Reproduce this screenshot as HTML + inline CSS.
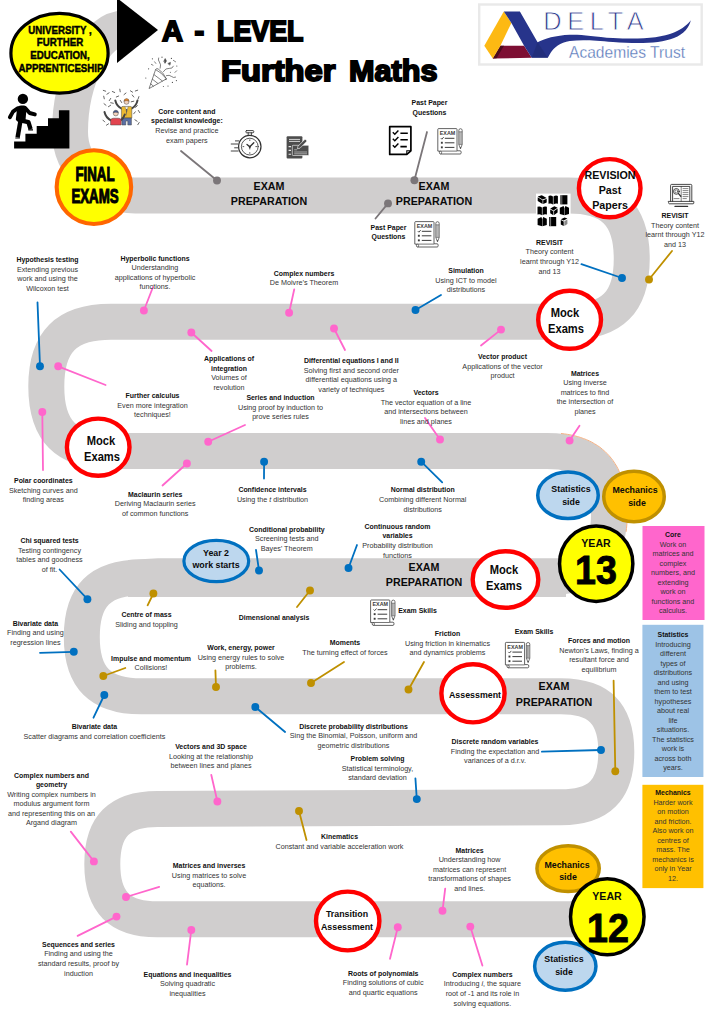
<!DOCTYPE html>
<html><head><meta charset="utf-8"><title>A-Level Further Maths</title>
<style>
html,body{margin:0;padding:0;background:#fff;}
body{width:709px;height:1024px;position:relative;overflow:hidden;font-family:"Liberation Sans",sans-serif;color:#222;}
svg.main{position:absolute;left:0;top:0;}
.lb{position:absolute;width:300px;text-align:center;font-size:7.2px;line-height:9.55px;white-space:nowrap;color:#333;}
.lb .b{font-weight:bold;color:#111;font-size:6.95px;}
.bg{position:absolute;width:200px;text-align:center;font-weight:bold;white-space:nowrap;color:#0a0a0a;transform:scaleX(0.93);}
.t{position:absolute;white-space:nowrap;font-weight:bold;color:#000;}
.ti{font-size:29px;line-height:36px;-webkit-text-stroke:1.9px #000;transform-origin:0 50%;}
</style></head><body>
<svg class="main" width="709" height="1024" viewBox="0 0 709 1024">
<path d="M 126 28.5 C 95 27 70 80 70 132 C 70 165.4 99 195.5 135 195.5 L 568.6 195.5 C 612.17 195.5 631.75 215.08 631.75 258.65 C 631.75 302.22 612.17 321.8 568.6 321.8 L 110.9 321.8 C 66.33 321.8 46.30 341.83 46.30 386.40 C 46.30 430.97 66.33 451 110.9 451 L 547 451 C 589.78 451 609.00 470.61 609.00 514.25 C 609.00 557.89 589.78 577.5 547 577.5 L 141.2 577.5 C 100.21 577.5 81.80 595.91 81.80 636.90 C 81.80 677.89 100.21 696.3 141.2 696.3 L 560.9 696.3 C 599.13 696.3 616.30 713.50 616.30 751.80 C 616.30 790.09 599.13 807.3 560.9 807.3 L 200 808.7 L 157.4 809 C 119.38 809 102.30 826.08 102.30 864.10 C 102.30 902.12 119.38 919.2 157.4 919.2 L 612 919.2" fill="none" stroke="#d0cece" stroke-width="36" stroke-linejoin="round"/>
<path d="M128 559.9 L158 558.2 H566 V562 H128 Z M128 594 H566 V597.1 H128 Z" fill="#d0cece"/>
<path d="M 561.0 433.5 L 564.4 433.9 L 567.7 434.4 L 570.9 435.0 L 574.1 435.7 L 577.2 436.5 L 580.3 437.4 L 583.3 438.5 L 586.3 439.6 L 589.2 440.9 L 592.0 442.3 L 594.7 443.9 L 597.4 445.5 L 600.0 447.3 L 602.4 449.3 L 604.8 451.3 L 607.0 453.5 L 609.2 455.8 L 611.2 458.2 L 613.1 460.7 L 614.8 463.3 L 616.5 466.0 L 618.0 468.8 L 619.3 471.6 L 620.6 474.5 L 621.7 477.5 L 622.7 480.6 L 623.6 483.7 L 624.4 486.8 L 625.1 490.1 L 625.7 493.3 L 626.1 496.7 L 626.5 500.1 L 626.8 503.5 L 627.0 507.0 L 627.2 510.6 L 627.2 514.2 L 627.2 514.2 L 627.2 517.9 L 627.0 521.5 L 626.8 525.0 L 626.5 528.4 L 626.1 531.8" fill="none" stroke="#f4b183" stroke-width="1"/>
<rect x="642.5" y="526" width="62" height="94" fill="#ff66cc"/>
<rect x="642.4" y="624.8" width="61" height="152.2" fill="#9dc3e6"/>
<rect x="642.4" y="784.8" width="61" height="103.3" fill="#ffc000"/>
<line x1="217" y1="180.5" x2="181" y2="151" stroke="#7b7679" stroke-width="1.8" stroke-linecap="round"/>
<circle cx="217" cy="180.5" r="3.95" fill="#7b7679"/>
<line x1="414.4" y1="180.2" x2="427" y2="132" stroke="#7b7679" stroke-width="1.8" stroke-linecap="round"/>
<circle cx="414.4" cy="180.2" r="3.95" fill="#7b7679"/>
<line x1="388" y1="203.4" x2="375.5" y2="218.5" stroke="#7b7679" stroke-width="1.8" stroke-linecap="round"/>
<circle cx="388" cy="203.4" r="3.95" fill="#7b7679"/>
<line x1="622" y1="278" x2="581.4" y2="264.2" stroke="#0070c0" stroke-width="1.8" stroke-linecap="round"/>
<circle cx="622" cy="278" r="3.95" fill="#0070c0"/>
<line x1="649" y1="279.5" x2="672" y2="251" stroke="#bf9000" stroke-width="1.8" stroke-linecap="round"/>
<circle cx="649" cy="279.5" r="3.95" fill="#bf9000"/>
<line x1="501" y1="329.6" x2="481" y2="345.5" stroke="#ff66cc" stroke-width="1.8" stroke-linecap="round"/>
<circle cx="501" cy="329.6" r="3.95" fill="#ff66cc"/>
<line x1="40" y1="366.3" x2="37.5" y2="302.4" stroke="#0070c0" stroke-width="1.8" stroke-linecap="round"/>
<circle cx="40" cy="366.3" r="3.95" fill="#0070c0"/>
<line x1="58.2" y1="366.3" x2="105.6" y2="385" stroke="#ff66cc" stroke-width="1.8" stroke-linecap="round"/>
<circle cx="58.2" cy="366.3" r="3.95" fill="#ff66cc"/>
<line x1="42.3" y1="412" x2="43" y2="470" stroke="#ff66cc" stroke-width="1.8" stroke-linecap="round"/>
<circle cx="42.3" cy="412" r="3.95" fill="#ff66cc"/>
<line x1="143.9" y1="310.5" x2="153" y2="287" stroke="#ff66cc" stroke-width="1.8" stroke-linecap="round"/>
<circle cx="143.9" cy="310.5" r="3.95" fill="#ff66cc"/>
<line x1="191.3" y1="332.5" x2="211.6" y2="351" stroke="#ff66cc" stroke-width="1.8" stroke-linecap="round"/>
<circle cx="191.3" cy="332.5" r="3.95" fill="#ff66cc"/>
<line x1="208.2" y1="441.8" x2="245" y2="425" stroke="#ff66cc" stroke-width="1.8" stroke-linecap="round"/>
<circle cx="208.2" cy="441.8" r="3.95" fill="#ff66cc"/>
<line x1="186.9" y1="463.5" x2="162.5" y2="485.5" stroke="#ff66cc" stroke-width="1.8" stroke-linecap="round"/>
<circle cx="186.9" cy="463.5" r="3.95" fill="#ff66cc"/>
<line x1="289.1" y1="312.8" x2="294.2" y2="289.5" stroke="#ff66cc" stroke-width="1.8" stroke-linecap="round"/>
<circle cx="289.1" cy="312.8" r="3.95" fill="#ff66cc"/>
<line x1="334" y1="328.5" x2="345" y2="350" stroke="#ff66cc" stroke-width="1.8" stroke-linecap="round"/>
<circle cx="334" cy="328.5" r="3.95" fill="#ff66cc"/>
<line x1="415.5" y1="310" x2="441" y2="295" stroke="#0070c0" stroke-width="1.8" stroke-linecap="round"/>
<circle cx="415.5" cy="310" r="3.95" fill="#0070c0"/>
<line x1="440" y1="439.5" x2="425" y2="418" stroke="#ff66cc" stroke-width="1.8" stroke-linecap="round"/>
<circle cx="440" cy="439.5" r="3.95" fill="#ff66cc"/>
<line x1="421.2" y1="461.7" x2="442.2" y2="482.3" stroke="#0070c0" stroke-width="1.8" stroke-linecap="round"/>
<circle cx="421.2" cy="461.7" r="3.95" fill="#0070c0"/>
<line x1="264.1" y1="461.7" x2="264" y2="478.5" stroke="#0070c0" stroke-width="1.8" stroke-linecap="round"/>
<circle cx="264.1" cy="461.7" r="3.95" fill="#0070c0"/>
<line x1="569.6" y1="440.6" x2="579.5" y2="425.8" stroke="#ff66cc" stroke-width="1.8" stroke-linecap="round"/>
<circle cx="569.6" cy="440.6" r="3.95" fill="#ff66cc"/>
<line x1="87.4" y1="599.2" x2="59.6" y2="569.5" stroke="#0070c0" stroke-width="1.8" stroke-linecap="round"/>
<circle cx="87.4" cy="599.2" r="3.95" fill="#0070c0"/>
<line x1="73.8" y1="651.8" x2="40" y2="652.8" stroke="#0070c0" stroke-width="1.8" stroke-linecap="round"/>
<circle cx="73.8" cy="651.8" r="3.95" fill="#0070c0"/>
<line x1="153.4" y1="593.5" x2="147.6" y2="605.3" stroke="#bf9000" stroke-width="1.8" stroke-linecap="round"/>
<circle cx="153.4" cy="593.5" r="3.95" fill="#bf9000"/>
<line x1="103.3" y1="676" x2="125.3" y2="668" stroke="#bf9000" stroke-width="1.8" stroke-linecap="round"/>
<circle cx="103.3" cy="676" r="3.95" fill="#bf9000"/>
<line x1="104.3" y1="695" x2="93.5" y2="717.7" stroke="#0070c0" stroke-width="1.8" stroke-linecap="round"/>
<circle cx="104.3" cy="695" r="3.95" fill="#0070c0"/>
<line x1="216" y1="687" x2="215.4" y2="670.3" stroke="#bf9000" stroke-width="1.8" stroke-linecap="round"/>
<circle cx="216" cy="687" r="3.95" fill="#bf9000"/>
<line x1="255.3" y1="707" x2="285.1" y2="732" stroke="#0070c0" stroke-width="1.8" stroke-linecap="round"/>
<circle cx="255.3" cy="707" r="3.95" fill="#0070c0"/>
<line x1="259" y1="570.5" x2="256" y2="550" stroke="#0070c0" stroke-width="1.8" stroke-linecap="round"/>
<circle cx="259" cy="570.5" r="3.95" fill="#0070c0"/>
<line x1="348.5" y1="568" x2="357" y2="545" stroke="#0070c0" stroke-width="1.8" stroke-linecap="round"/>
<circle cx="348.5" cy="568" r="3.95" fill="#0070c0"/>
<line x1="310" y1="590.5" x2="297" y2="607" stroke="#bf9000" stroke-width="1.8" stroke-linecap="round"/>
<circle cx="310" cy="590.5" r="3.95" fill="#bf9000"/>
<line x1="311" y1="683" x2="344" y2="662" stroke="#bf9000" stroke-width="1.8" stroke-linecap="round"/>
<circle cx="311" cy="683" r="3.95" fill="#bf9000"/>
<line x1="408.5" y1="689.5" x2="424" y2="662" stroke="#bf9000" stroke-width="1.8" stroke-linecap="round"/>
<circle cx="408.5" cy="689.5" r="3.95" fill="#bf9000"/>
<line x1="601" y1="750" x2="541.9" y2="751.7" stroke="#0070c0" stroke-width="1.8" stroke-linecap="round"/>
<circle cx="601" cy="750" r="3.95" fill="#0070c0"/>
<line x1="615.3" y1="771.3" x2="613.6" y2="680.6" stroke="#bf9000" stroke-width="1.8" stroke-linecap="round"/>
<circle cx="615.3" cy="771.3" r="3.95" fill="#bf9000"/>
<line x1="416.8" y1="799.1" x2="415.4" y2="778.3" stroke="#0070c0" stroke-width="1.8" stroke-linecap="round"/>
<circle cx="416.8" cy="799.1" r="3.95" fill="#0070c0"/>
<line x1="93.9" y1="861.4" x2="70.8" y2="831.6" stroke="#ff66cc" stroke-width="1.8" stroke-linecap="round"/>
<circle cx="93.9" cy="861.4" r="3.95" fill="#ff66cc"/>
<line x1="126" y1="897" x2="159.2" y2="886.8" stroke="#ff66cc" stroke-width="1.8" stroke-linecap="round"/>
<circle cx="126" cy="897" r="3.95" fill="#ff66cc"/>
<line x1="116.5" y1="916.6" x2="77.6" y2="935.9" stroke="#ff66cc" stroke-width="1.8" stroke-linecap="round"/>
<circle cx="116.5" cy="916.6" r="3.95" fill="#ff66cc"/>
<line x1="191.3" y1="930" x2="187" y2="964.6" stroke="#ff66cc" stroke-width="1.8" stroke-linecap="round"/>
<circle cx="191.3" cy="930" r="3.95" fill="#ff66cc"/>
<line x1="217.4" y1="801.5" x2="211.3" y2="775" stroke="#ff66cc" stroke-width="1.8" stroke-linecap="round"/>
<circle cx="217.4" cy="801.5" r="3.95" fill="#ff66cc"/>
<line x1="299" y1="811" x2="306.5" y2="840" stroke="#bf9000" stroke-width="1.8" stroke-linecap="round"/>
<circle cx="299" cy="811" r="3.95" fill="#bf9000"/>
<line x1="397.8" y1="927.3" x2="390" y2="958.8" stroke="#ff66cc" stroke-width="1.8" stroke-linecap="round"/>
<circle cx="397.8" cy="927.3" r="3.95" fill="#ff66cc"/>
<line x1="442.5" y1="910.7" x2="445.2" y2="888.7" stroke="#ff66cc" stroke-width="1.8" stroke-linecap="round"/>
<circle cx="442.5" cy="910.7" r="3.95" fill="#ff66cc"/>
<line x1="470.3" y1="926.6" x2="482.4" y2="965.6" stroke="#ff66cc" stroke-width="1.8" stroke-linecap="round"/>
<circle cx="470.3" cy="926.6" r="3.95" fill="#ff66cc"/>
<ellipse cx="59.5" cy="53.2" rx="48.6" ry="39.9" fill="#ffff00" stroke="#000" stroke-width="3.2"/>
<ellipse cx="93.9" cy="187.1" rx="37.25" ry="36.85" fill="#ffff00" stroke="#ff6600" stroke-width="4.1"/>
<ellipse cx="609.7" cy="188.2" rx="30.8" ry="29.1" fill="#fff" stroke="#ff0000" stroke-width="4.4"/>
<ellipse cx="569.6" cy="319.8" rx="31.400000000000002" ry="29.0" fill="#fff" stroke="#ff0000" stroke-width="4.4"/>
<ellipse cx="98.2" cy="447.2" rx="31.3" ry="28.6" fill="#fff" stroke="#ff0000" stroke-width="4.4"/>
<ellipse cx="505.5" cy="579.5" rx="32.8" ry="28.3" fill="#fff" stroke="#ff0000" stroke-width="4.4"/>
<ellipse cx="473" cy="693.3" rx="31.599999999999998" ry="29.1" fill="#fff" stroke="#ff0000" stroke-width="4.4"/>
<ellipse cx="347.7" cy="921" rx="31.7" ry="29.400000000000002" fill="#fff" stroke="#ff0000" stroke-width="4.4"/>
<ellipse cx="568" cy="495.3" rx="30.25" ry="23.25" fill="#bdd7ee" stroke="#0070c0" stroke-width="3.5"/>
<ellipse cx="634" cy="496.5" rx="30.25" ry="25.25" fill="#ffc000" stroke="#bf9000" stroke-width="3.5"/>
<ellipse cx="596.2" cy="563.7" rx="36.65" ry="37.75" fill="#ffff00" stroke="#000" stroke-width="3.5"/>
<ellipse cx="216.3" cy="561" rx="32.4" ry="20.7" fill="#bdd7ee" stroke="#0070c0" stroke-width="3.2"/>
<ellipse cx="568.1" cy="868.6" rx="31.15" ry="22.95" fill="#ffc000" stroke="#bf9000" stroke-width="3.5"/>
<ellipse cx="565.3" cy="966.3" rx="30.65" ry="23.95" fill="#bdd7ee" stroke="#0070c0" stroke-width="3.5"/>
<ellipse cx="607.3" cy="916.7" rx="36.75" ry="38.05" fill="#ffff00" stroke="#000" stroke-width="3.5"/>
<polygon points="117,-2 117,63 158,30" fill="#000"/>


<!-- stairs + person -->
<g fill="#000">
  <path d="M14.100 148.400 V141.600 H25.400 V133.700 H36.700 V126.100 H48 V118.200 H58.900 V110.300 H69.400 V148.400 Z"/>
  <circle cx="22.900" cy="98.900" r="5.200"/>
  <path d="M17.200 107.400 Q18.400 105.600 21 105.500 H24 Q26 105.600 26.600 107.600 L25.400 121.600 Q24 123.600 21 122.800 Q16.600 121.800 15.800 119.400 Z"/>
</g>
<g fill="none" stroke="#000" stroke-linecap="round" stroke-linejoin="round">
  <path d="M17.600 108.200 L13 111.600 L9.900 117.200" stroke-width="3.900"/>
  <path d="M25.200 108 L29.600 113 L34.800 114.400" stroke-width="3.900"/>
  <path d="M22.600 120.800 L28.400 122.200 L30.600 129.200" stroke-width="4.400" stroke-linecap="butt"/>
  <path d="M20.600 120 L17.600 137.400" stroke-width="4.400" stroke-linecap="butt"/>
</g>
<path d="M28.300 129.200 H33 V130.600 H28.300 Z M15.300 137.400 H19.900 V138.600 H15.300 Z" fill="#000"/>

<!-- celebration icon -->
<g>
  <path d="M103.3 90.4 L105.7 91.2 M106.9 94.2 L109.1 92.8 M112.3 91.5 L114.7 92.5 M119.8 89.2 L120.2 91.8 M124.0 94.6 L126.0 93.0 M130.4 90.8 L132.6 92.2 M135.3 91.0 L137.7 90.2 M103.7 96.2 L104.3 98.8 M109.3 100.6 L110.7 98.4 M132.2 95.0 L133.8 97.0 M138.1 99.0 L138.9 96.6 M104.0 103.7 L106.0 105.3 M108.4 106.7 L110.6 105.3 M135.6 107.4 L137.4 105.6 M138.3 110.4 L139.7 112.6 M133.7 113.8 L135.3 111.8 M102.9 120.1 L104.7 121.9 M106.4 125.2 L108.6 123.8 M134.9 119.8 L137.1 121.2 M137.8 124.7 L139.2 122.5 M116.3 97.0 L118.7 96.0 M120.3 100.4 L121.7 102.6 M110.7 102.7 L113.3 103.3 M131.2 101.8 L133.8 101.2" stroke="#555" stroke-width="0.900" fill="none" stroke-linecap="round"/>
  <!-- right person (yellow) -->
  <path d="M121.800 108.600 Q116.600 106 115.300 100.400" stroke="#454545" stroke-width="2" fill="none" stroke-linecap="round"/>
  <path d="M131.400 108.600 Q136.400 106 137.500 100.400" stroke="#454545" stroke-width="2" fill="none" stroke-linecap="round"/>
  <path d="M121.400 107.400 Q121.600 106.400 123 106.400 H130.200 Q131.600 106.400 131.800 107.400 V118 H121.400 Z" fill="#eab932" stroke="#454545" stroke-width="0.500"/>
  <path d="M125 106.600 L126.600 112 L128.200 106.600 Z" fill="#f3efe6" stroke="#454545" stroke-width="0.300"/>
  <path d="M126 109 L126.600 116.500 L127.300 109 Z" fill="#555"/>
  <circle cx="126.500" cy="101.800" r="2.500" fill="#f4d3bd" stroke="#454545" stroke-width="0.500"/>
  <path d="M123.900 101.200 Q124.100 98.600 126.500 98.600 Q129 98.600 129.100 101.200 Q126.500 100.100 123.900 101.200 Z" fill="#e8862a" stroke="#454545" stroke-width="0.400"/>
  <path d="M122 118 H131.400 V125 H127.800 V121 H125.800 V125 H122 Z" fill="#5a6fa5" stroke="#454545" stroke-width="0.500"/>
  <!-- left person (red) -->
  <path d="M111 120.400 Q105.800 117.800 104.500 112" stroke="#454545" stroke-width="2" fill="none" stroke-linecap="round"/>
  <path d="M120.600 120.400 Q123.500 118.500 124.800 114.500" stroke="#454545" stroke-width="2" fill="none" stroke-linecap="round"/>
  <path d="M110.600 119.600 Q112 118.200 113.500 118.200 H118.200 Q120 118.200 121.200 119.600 V125 H110.600 Z" fill="#e2444f" stroke="#454545" stroke-width="0.500"/>
  <circle cx="115.800" cy="113.400" r="2.500" fill="#f4d3bd" stroke="#454545" stroke-width="0.500"/>
  <path d="M113.200 112.800 Q113.400 110.200 115.800 110.200 Q118.300 110.200 118.400 112.800 Q115.800 111.700 113.200 112.800 Z" fill="#47598f" stroke="#454545" stroke-width="0.400"/>
</g>

<!-- party popper -->
<g stroke="#4a4a4a" stroke-width="0.7" fill="none" stroke-linecap="round" stroke-linejoin="round">
  <path d="M149.200 88.200 L155.600 69.600 Q161 72 166.200 78.600 Z"/>
  <path d="M152.400 79.200 L157.800 83.400 M154 74.600 L162.400 81 M150.700 83.800 L153.400 86.200"/>
  <path d="M155.600 69.600 Q156.500 67.500 158.200 69 Q163.600 72.500 166.200 78.600 Q167 80.200 165.200 79.600"/>
  <path d="M160.200 68.200 Q161.400 64.400 159.400 62 Q157.800 60.200 158.600 58"/>
  <path d="M163.400 71.600 Q165.600 67.800 169.200 68.400 Q172.400 69 173.400 66.200"/>
  <path d="M166.400 75.600 Q169.600 74.600 171.400 76.400 Q173.400 78.200 175.600 77.200"/>
  <path d="M164 61 l1.200 -2.400 l1.200 2.400 l-1.200 2 Z" fill="#4a4a4a"/>
  <path d="M168.200 63.400 l2.200 -1 l-0.400 2.400 Z" fill="#4a4a4a"/>
  <path d="M173.400 60.400 l2.200 1.400 M175 72.400 l1.600 -1.600 M154.600 61.800 l1.200 1.600 M151.400 64.400 l1.600 0.800"/>
</g>
<g fill="#4a4a4a"><circle cx="148.6" cy="68.800" r="0.6"/><circle cx="152.400" cy="58.800" r="0.6"/><circle cx="162" cy="57.200" r="0.6"/><circle cx="171.400" cy="58.400" r="0.6"/><circle cx="176.800" cy="66" r="0.6"/><circle cx="172.400" cy="82.400" r="0.6"/><circle cx="168" cy="86" r="0.6"/><circle cx="145.800" cy="78" r="0.6"/><circle cx="176.400" cy="80.600" r="0.6"/><circle cx="163.400" cy="86.600" r="0.5"/><circle cx="170.400" cy="72.200" r="0.5"/></g>

<!-- stopwatch -->
<g stroke="#303030" fill="none" stroke-linecap="round">
  <circle cx="249.8" cy="146.6" r="11.2" stroke-width="1.2"/>
  <circle cx="249.8" cy="146.6" r="8.4" stroke-width="0.8"/>
  <path d="M246.600 130.600 H253 Q253.800 130.600 253.800 131.600 Q253.800 132.800 253 132.800 H246.600 Q245.800 132.800 245.800 131.600 Q245.800 130.600 246.600 130.600 Z" stroke-width="0.9"/>
  <path d="M248.200 132.800 V135.200 M251.400 132.800 V135.200" stroke-width="0.9"/>
  <path d="M249.800 146.800 L253.800 142.800 M249.800 146.800 L247 144.400" stroke-width="1.3"/>
  <path d="M249.800 146.800 V149" stroke-width="0.9"/>
  <path d="M235.400 140.900 H238.800 M231.200 144 H237.800 M234.600 147.800 H237.600 M231.200 151 H238.200" stroke-width="0.9"/>
  <path d="M249.800 139.800 V140.600 M249.800 152.600 V153.400 M243 146.600 H243.800 M255.800 146.600 H256.600" stroke-width="0.8"/>
</g>
<circle cx="249.8" cy="146.800" r="1.100" fill="#303030"/>

<!-- document + pencil icon -->
<g>
  <rect x="286.600" y="136.200" width="15.800" height="22.400" rx="1" fill="#4d4d4d"/>
  <path d="M289 139.400 H300 M289 141.400 H300" stroke="#e6e6e6" stroke-width="0.9"/>
  <path d="M288.600 146.600 H291 M288.600 150.400 H291 M288.600 154.200 H291" stroke="#e6e6e6" stroke-width="1.100"/>
  <rect x="292.300" y="145.300" width="16.500" height="10.200" rx="0.800" fill="#4d4d4d" stroke="#fff" stroke-width="0.600"/>
  <path d="M294.200 149.800 H297 M294.200 152 H307 M294.200 153.800 H307" stroke="#cfcfcf" stroke-width="0.700"/>
  <path d="M297.400 148.800 L298 146.200 L304.400 139.800 Q305.400 139 306.400 140 Q307.200 141 306.400 141.800 L300 148.200 Z" fill="#4d4d4d" stroke="#fff" stroke-width="0.600"/>
</g>

<!-- checklist icon -->
<g>
  <path d="M389.700 126.700 H410.900 V150.800 L406.800 154.400 H389.700 Z" fill="#fff" stroke="#000" stroke-width="1.700" stroke-linejoin="round"/>
  <path d="M406.800 154.400 V150.800 H410.900" fill="none" stroke="#000" stroke-width="1.100"/>
  <g stroke="#000" fill="none" stroke-width="1.400">
    <path d="M392.800 132.200 l2 2 l3.600 -3.800 M392.800 138.700 l2 2 l3.600 -3.800 M392.800 145.300 l2 2 l3.600 -3.800"/>
    <path d="M400.400 133.200 H407.800 M400.400 139.800 H407.800 M400.400 146.600 H406.800" stroke-width="1.600"/>
  </g>
</g>

<!-- exam icons -->
<g transform="translate(437.200,128.200)">
  <!-- paper 0..20 wide, 0..26 tall; pencil to the right -->
  <path d="M0.6 1.2 Q0.6 0.4 1.4 0.4 H19 Q19.8 0.4 19.8 1.2 V22.6 H23 Q24 22.6 24 24.2 Q24 25.8 23 25.8 H3.4 Q2.2 25.8 2.2 24.2 V22.9 H0.6 Z" fill="#fff" stroke="#3b3b3b" stroke-width="0.8" stroke-linejoin="round"/>
  <path d="M2.2 22.9 H19.8 M3.4 25.8 Q4.6 25.6 4.4 24.2 Q4.3 23 3.2 22.9" fill="none" stroke="#3b3b3b" stroke-width="0.7"/>
  <text x="10.3" y="6.9" font-family="Liberation Sans, sans-serif" font-weight="bold" font-size="5.4" text-anchor="middle" fill="#3b3b3b" textLength="15.5" lengthAdjust="spacingAndGlyphs">EXAM</text>
  <g stroke="#3b3b3b" stroke-width="0.9" fill="none">
    <path d="M3.6 9.9 l1.1 1.1 l1.8 -2.1" stroke-width="0.9"/>
    <rect x="3.7" y="13.6" width="1.9" height="1.9" fill="#3b3b3b" stroke="none"/>
    <rect x="3.7" y="18.2" width="1.9" height="1.9" fill="#3b3b3b" stroke="none"/>
    <path d="M7.6 10.1 H17.2 M7.6 14.6 H17.2 M7.6 19.2 H17.2" stroke-width="1"/>
  </g>
  <!-- pencil -->
  <path d="M21.6 2.2 Q21.6 0.5 23.3 0.5 Q25 0.5 25 2.2 V16.2 L23.3 20.6 L21.6 16.2 Z" fill="#fff" stroke="#3b3b3b" stroke-width="0.7" stroke-linejoin="round"/>
  <path d="M21.6 3.6 H25 M21.6 16.2 H25 M22.7 3.6 V16.2 M23.9 3.6 V16.2" stroke="#3b3b3b" stroke-width="0.5" fill="none"/>
  <path d="M22.7 19 L23.3 20.6 L23.9 19 Z" fill="#3b3b3b"/>
</g>
<g transform="translate(414.200,221.200)">
  <!-- paper 0..20 wide, 0..26 tall; pencil to the right -->
  <path d="M0.6 1.2 Q0.6 0.4 1.4 0.4 H19 Q19.8 0.4 19.8 1.2 V22.6 H23 Q24 22.6 24 24.2 Q24 25.8 23 25.8 H3.4 Q2.2 25.8 2.2 24.2 V22.9 H0.6 Z" fill="#fff" stroke="#3b3b3b" stroke-width="0.8" stroke-linejoin="round"/>
  <path d="M2.2 22.9 H19.8 M3.4 25.8 Q4.6 25.6 4.4 24.2 Q4.3 23 3.2 22.9" fill="none" stroke="#3b3b3b" stroke-width="0.7"/>
  <text x="10.3" y="6.9" font-family="Liberation Sans, sans-serif" font-weight="bold" font-size="5.4" text-anchor="middle" fill="#3b3b3b" textLength="15.5" lengthAdjust="spacingAndGlyphs">EXAM</text>
  <g stroke="#3b3b3b" stroke-width="0.9" fill="none">
    <path d="M3.6 9.9 l1.1 1.1 l1.8 -2.1" stroke-width="0.9"/>
    <rect x="3.7" y="13.6" width="1.9" height="1.9" fill="#3b3b3b" stroke="none"/>
    <rect x="3.7" y="18.2" width="1.9" height="1.9" fill="#3b3b3b" stroke="none"/>
    <path d="M7.6 10.1 H17.2 M7.6 14.6 H17.2 M7.6 19.2 H17.2" stroke-width="1"/>
  </g>
  <!-- pencil -->
  <path d="M21.6 2.2 Q21.6 0.5 23.3 0.5 Q25 0.5 25 2.2 V16.2 L23.3 20.6 L21.6 16.2 Z" fill="#fff" stroke="#3b3b3b" stroke-width="0.7" stroke-linejoin="round"/>
  <path d="M21.6 3.6 H25 M21.6 16.2 H25 M22.7 3.6 V16.2 M23.9 3.6 V16.2" stroke="#3b3b3b" stroke-width="0.5" fill="none"/>
  <path d="M22.7 19 L23.3 20.6 L23.9 19 Z" fill="#3b3b3b"/>
</g>
<g transform="translate(370,599.600)">
  <!-- paper 0..20 wide, 0..26 tall; pencil to the right -->
  <path d="M0.6 1.2 Q0.6 0.4 1.4 0.4 H19 Q19.8 0.4 19.8 1.2 V22.6 H23 Q24 22.6 24 24.2 Q24 25.8 23 25.8 H3.4 Q2.2 25.8 2.2 24.2 V22.9 H0.6 Z" fill="#fff" stroke="#3b3b3b" stroke-width="0.8" stroke-linejoin="round"/>
  <path d="M2.2 22.9 H19.8 M3.4 25.8 Q4.6 25.6 4.4 24.2 Q4.3 23 3.2 22.9" fill="none" stroke="#3b3b3b" stroke-width="0.7"/>
  <text x="10.3" y="6.9" font-family="Liberation Sans, sans-serif" font-weight="bold" font-size="5.4" text-anchor="middle" fill="#3b3b3b" textLength="15.5" lengthAdjust="spacingAndGlyphs">EXAM</text>
  <g stroke="#3b3b3b" stroke-width="0.9" fill="none">
    <path d="M3.6 9.9 l1.1 1.1 l1.8 -2.1" stroke-width="0.9"/>
    <rect x="3.7" y="13.6" width="1.9" height="1.9" fill="#3b3b3b" stroke="none"/>
    <rect x="3.7" y="18.2" width="1.9" height="1.9" fill="#3b3b3b" stroke="none"/>
    <path d="M7.6 10.1 H17.2 M7.6 14.6 H17.2 M7.6 19.2 H17.2" stroke-width="1"/>
  </g>
  <!-- pencil -->
  <path d="M21.6 2.2 Q21.6 0.5 23.3 0.5 Q25 0.5 25 2.2 V16.2 L23.3 20.6 L21.6 16.2 Z" fill="#fff" stroke="#3b3b3b" stroke-width="0.7" stroke-linejoin="round"/>
  <path d="M21.6 3.6 H25 M21.6 16.2 H25 M22.7 3.6 V16.2 M23.9 3.6 V16.2" stroke="#3b3b3b" stroke-width="0.5" fill="none"/>
  <path d="M22.7 19 L23.3 20.6 L23.9 19 Z" fill="#3b3b3b"/>
</g>
<g transform="translate(504.800,642)">
  <!-- paper 0..20 wide, 0..26 tall; pencil to the right -->
  <path d="M0.6 1.2 Q0.6 0.4 1.4 0.4 H19 Q19.8 0.4 19.8 1.2 V22.6 H23 Q24 22.6 24 24.2 Q24 25.8 23 25.8 H3.4 Q2.2 25.8 2.2 24.2 V22.9 H0.6 Z" fill="#fff" stroke="#3b3b3b" stroke-width="0.8" stroke-linejoin="round"/>
  <path d="M2.2 22.9 H19.8 M3.4 25.8 Q4.6 25.6 4.4 24.2 Q4.3 23 3.2 22.9" fill="none" stroke="#3b3b3b" stroke-width="0.7"/>
  <text x="10.3" y="6.9" font-family="Liberation Sans, sans-serif" font-weight="bold" font-size="5.4" text-anchor="middle" fill="#3b3b3b" textLength="15.5" lengthAdjust="spacingAndGlyphs">EXAM</text>
  <g stroke="#3b3b3b" stroke-width="0.9" fill="none">
    <path d="M3.6 9.9 l1.1 1.1 l1.8 -2.1" stroke-width="0.9"/>
    <rect x="3.7" y="13.6" width="1.9" height="1.9" fill="#3b3b3b" stroke="none"/>
    <rect x="3.7" y="18.2" width="1.9" height="1.9" fill="#3b3b3b" stroke="none"/>
    <path d="M7.6 10.1 H17.2 M7.6 14.6 H17.2 M7.6 19.2 H17.2" stroke-width="1"/>
  </g>
  <!-- pencil -->
  <path d="M21.6 2.2 Q21.6 0.5 23.3 0.5 Q25 0.5 25 2.2 V16.2 L23.3 20.6 L21.6 16.2 Z" fill="#fff" stroke="#3b3b3b" stroke-width="0.7" stroke-linejoin="round"/>
  <path d="M21.6 3.6 H25 M21.6 16.2 H25 M22.7 3.6 V16.2 M23.9 3.6 V16.2" stroke="#3b3b3b" stroke-width="0.5" fill="none"/>
  <path d="M22.7 19 L23.3 20.6 L23.9 19 Z" fill="#3b3b3b"/>
</g>

<!-- books grid -->
<rect x="536" y="193.600" width="34.600" height="34" fill="#fff"/>
<g transform="translate(537.200,194.600)"><path d="M0.5 2 L4.6 0.6 L9.5 3.4 L5.4 5 Z M0.5 2.6 V6.4 L5.4 9.4 V5.6 Z M6 5.7 L9.5 4.2 V8 L6 9.4 Z" fill="#000"/></g>
<g transform="translate(548.200,194.800)"><path d="M0.3 1.2 Q2.6 0.2 4.7 1.8 V9.6 Q2.6 8.2 0.3 9 Z M5.3 1.8 Q7.4 0.2 9.7 1.2 V9 Q7.4 8.2 5.3 9.6 Z" fill="#000"/></g>
<g transform="translate(558.800,194.800)"><path d="M1.6 0.4 H8.6 V9.6 H1.6 Z" fill="#000"/><path d="M3 0.4 V9.6" stroke="#fff" stroke-width="0.5"/></g>
<g transform="translate(537.200,205.600)"><path d="M0.3 1.2 Q2.6 0.2 4.7 1.8 V9.6 Q2.6 8.2 0.3 9 Z M5.3 1.8 Q7.4 0.2 9.7 1.2 V9 Q7.4 8.2 5.3 9.6 Z" fill="#000"/></g>
<g transform="translate(548.200,205.600)"><path d="M2 3 L6.2 0.6 L9.4 2.2 L5.2 4.8 Z M2 3.8 L5.2 5.6 V9.6 L2 7.6 Z M5.9 5.4 L9.4 3 V6.8 L5.9 9.4 Z" fill="#000"/></g>
<g transform="translate(559.400,205.600)"><path d="M0.4 2.2 L4.2 0.5 L4.9 2.4 V9.6 L0.4 8.4 Z M5.3 2.4 L6 0.5 L9.6 2.2 V8.4 L5.3 9.6 Z" fill="#000"/></g>
<g transform="translate(537.200,216.600)"><path d="M0.4 2.2 L4.2 0.5 L4.9 2.4 V9.6 L0.4 8.4 Z M5.3 2.4 L6 0.5 L9.6 2.2 V8.4 L5.3 9.6 Z" fill="#000"/></g>
<g transform="translate(547.600,216.600)"><path d="M1.6 0.4 H8.6 V9.6 H1.6 Z" fill="#000"/><path d="M3 0.4 V9.6" stroke="#fff" stroke-width="0.5"/></g>
<g transform="translate(558.800,216.600)"><path d="M2 2.6 L5.8 0.8 L8.6 2 L4.9 4 Z M2 3.4 L4.9 4.9 V9.4 L2 7.8 Z" fill="#000"/><path d="M5.5 4.7 L8.6 2.8 V7.4 L5.5 9.4 Z" fill="#8a8a8a"/></g>

<!-- computer / research icon -->
<g stroke="#333" fill="none" stroke-width="0.9" stroke-linejoin="round" stroke-linecap="round">
  <path d="M670.600 201.400 V185.400 Q670.600 184.400 671.600 184.400 H690.800 Q691.800 184.400 691.800 185.400 V201.400"/>
  <path d="M672.600 201.400 V186.400 H689.800 V201.400"/>
  <path d="M681.200 186.400 V201.400" stroke-width="0.6"/>
  <path d="M668.600 201.400 H693.800 V203 Q693.800 203.800 693 203.800 H669.400 Q668.600 203.800 668.600 203 Z" />
  <path d="M675 206.400 H687.600" stroke-width="1.300"/>
  <circle cx="676.400" cy="191.400" r="2.900"/>
  <circle cx="676.400" cy="191.400" r="1.500" stroke-width="0.6"/>
  <path d="M678.500 193.600 L680.800 196.200" stroke-width="1.300"/>
  <path d="M683 188.600 H688 M683 190.600 H688 M683 192.600 H688 M683 194.600 H688 M683 196.600 H688 M683 198.600 H686.400 M674 198.600 H679" stroke-width="0.6"/>
</g>

</svg>
<div class="lb" style="left:36.9px;top:106.9px;line-height:9.55px"><div class="b">Core content and</div><div class="b">specialist knowledge:</div><div class="r">Revise and practice</div><div class="r">exam papers</div></div>
<div class="lb" style="left:279.5px;top:98.4px;line-height:9.55px"><div class="b">Past Paper</div><div class="b">Questions</div></div>
<div class="lb" style="left:238.5px;top:222.9px;line-height:9.55px"><div class="b">Past Paper</div><div class="b">Questions</div></div>
<div class="lb" style="left:399.6px;top:237.6px;line-height:9.7px"><div class="b">REVISIT</div><div class="r">Theory content</div><div class="r">learnt through Y12</div><div class="r">and 13</div></div>
<div class="lb" style="left:525.0px;top:211.1px;line-height:9.5px"><div class="b">REVISIT</div><div class="r">Theory content</div><div class="r">learnt through Y12</div><div class="r">and 13</div></div>
<div class="lb" style="left:-102.5px;top:255.2px;line-height:9.55px"><div class="b">Hypothesis testing</div><div class="r">Extending previous</div><div class="r">work and using the</div><div class="r">Wilcoxon test</div></div>
<div class="lb" style="left:5.0px;top:253.7px;line-height:9.55px"><div class="b">Hyperbolic functions</div><div class="r">Understanding</div><div class="r">applications of hyperbolic</div><div class="r">functions.</div></div>
<div class="lb" style="left:154.0px;top:268.7px;line-height:9.55px"><div class="b">Complex numbers</div><div class="r">De Moivre’s Theorem</div></div>
<div class="lb" style="left:79.0px;top:354.3px;line-height:9.55px"><div class="b">Applications of</div><div class="b">integration</div><div class="r">Volumes of</div><div class="r">revolution</div></div>
<div class="lb" style="left:201.3px;top:356.4px;line-height:9.55px"><div class="b">Differential equations I and II</div><div class="r">Solving first and second order</div><div class="r">differential equations using a</div><div class="r">variety of techniques</div></div>
<div class="lb" style="left:2.5px;top:391.2px;line-height:9.55px"><div class="b">Further calculus</div><div class="r">Even more integration</div><div class="r">techniques!</div></div>
<div class="lb" style="left:130.5px;top:393.2px;line-height:9.55px"><div class="b">Series and induction</div><div class="r">Using proof by induction to</div><div class="r">prove series rules</div></div>
<div class="lb" style="left:-106.7px;top:475.9px;line-height:9.8px"><div class="b">Polar coordinates</div><div class="r">Sketching curves and</div><div class="r">finding areas</div></div>
<div class="lb" style="left:5.2px;top:489.5px;line-height:9.95px"><div class="b">Maclaurin series</div><div class="r">Deriving Maclaurin series</div><div class="r">of common functions</div></div>
<div class="lb" style="left:122.5px;top:484.9px;line-height:10.1px"><div class="b">Confidence intervals</div><div class="r">Using the <i>t</i> distribution</div></div>
<div class="lb" style="left:316.0px;top:266.2px;line-height:9.55px"><div class="b">Simulation</div><div class="r">Using ICT to model</div><div class="r">distributions</div></div>
<div class="lb" style="left:352.5px;top:351.9px;line-height:9.8px"><div class="b">Vector product</div><div class="r">Applications of the vector</div><div class="r">product</div></div>
<div class="lb" style="left:435.0px;top:368.7px;line-height:9.55px"><div class="b">Matrices</div><div class="r">Using inverse</div><div class="r">matrices to find</div><div class="r">the intersection of</div><div class="r">planes</div></div>
<div class="lb" style="left:276.0px;top:388.2px;line-height:9.55px"><div class="b">Vectors</div><div class="r">The vector equation of a line</div><div class="r">and intersections between</div><div class="r">lines and planes</div></div>
<div class="lb" style="left:272.8px;top:484.7px;line-height:9.95px"><div class="b">Normal distribution</div><div class="r">Combining different Normal</div><div class="r">distributions</div></div>
<div class="lb" style="left:-100.5px;top:536.0px;line-height:9.55px"><div class="b">Chi squared tests</div><div class="r">Testing contingency</div><div class="r">tables and goodness</div><div class="r">of fit.</div></div>
<div class="lb" style="left:136.8px;top:524.7px;line-height:9.55px"><div class="b">Conditional probability</div><div class="r">Screening tests and</div><div class="r">Bayes’ Theorem</div></div>
<div class="lb" style="left:-3.5px;top:610.0px;line-height:9.55px"><div class="b">Centre of mass</div><div class="r">Sliding and toppling</div></div>
<div class="lb" style="left:124.0px;top:613.2px;line-height:9.55px"><div class="b">Dimensional analysis</div></div>
<div class="lb" style="left:-114.6px;top:618.7px;line-height:9.8px"><div class="b">Bivariate data</div><div class="r">Finding and using</div><div class="r">regression lines</div></div>
<div class="lb" style="left:1.0px;top:653.7px;line-height:9.55px"><div class="b">Impulse and momentum</div><div class="r">Collisions!</div></div>
<div class="lb" style="left:91.0px;top:643.2px;line-height:9.55px"><div class="b">Work, energy, power</div><div class="r">Using energy rules to solve</div><div class="r">problems.</div></div>
<div class="lb" style="left:195.0px;top:638.2px;line-height:9.55px"><div class="b">Moments</div><div class="r">The turning effect of forces</div></div>
<div class="lb" style="left:-55.6px;top:722.3px;line-height:9.8px"><div class="b">Bivariate data</div><div class="r">Scatter diagrams and correlation coefficients</div></div>
<div class="lb" style="left:61.0px;top:742.2px;line-height:9.55px"><div class="b">Vectors and 3D space</div><div class="r">Looking at the relationship</div><div class="r">between lines and planes</div></div>
<div class="lb" style="left:203.5px;top:721.5px;line-height:9.55px"><div class="b">Discrete probability distributions</div><div class="r">Sing the Binomial, Poisson, uniform and</div><div class="r">geometric distributions</div></div>
<div class="lb" style="left:227.5px;top:754.0px;line-height:9.55px"><div class="b">Problem solving</div><div class="r">Statistical terminology,</div><div class="r">standard deviation</div></div>
<div class="lb" style="left:247.5px;top:521.9px;line-height:9.55px"><div class="b">Continuous random</div><div class="b">variables</div><div class="r">Probability distribution</div><div class="r">functions</div></div>
<div class="lb" style="left:267.5px;top:606.2px;line-height:9.55px"><div class="b">Exam Skills</div></div>
<div class="lb" style="left:297.5px;top:629.2px;line-height:9.55px"><div class="b">Friction</div><div class="r">Using friction in kinematics</div><div class="r">and dynamics problems</div></div>
<div class="lb" style="left:384.0px;top:626.8px;line-height:9.55px"><div class="b">Exam Skills</div></div>
<div class="lb" style="left:449.0px;top:636.2px;line-height:9.55px"><div class="b">Forces and motion</div><div class="r">Newton’s Laws, finding a</div><div class="r">resultant force and</div><div class="r">equilibrium</div></div>
<div class="lb" style="left:345.0px;top:737.3px;line-height:9.55px"><div class="b">Discrete random variables</div><div class="r">Finding the expectation and</div><div class="r">variances of a d.r.v.</div></div>
<div class="lb" style="left:-98.5px;top:770.7px;line-height:9.55px"><div class="b">Complex numbers and</div><div class="b">geometry</div><div class="r">Writing complex numbers in</div><div class="r">modulus argument form</div><div class="r">and representing this on an</div><div class="r">Argand diagram</div></div>
<div class="lb" style="left:189.5px;top:832.2px;line-height:9.55px"><div class="b">Kinematics</div><div class="r">Constant and variable acceleration work</div></div>
<div class="lb" style="left:59.0px;top:861.2px;line-height:9.55px"><div class="b">Matrices and inverses</div><div class="r">Using matrices to solve</div><div class="r">equations.</div></div>
<div class="lb" style="left:-71.5px;top:939.9px;line-height:9.55px"><div class="b">Sequences and series</div><div class="r">Finding and using the</div><div class="r">standard results, proof by</div><div class="r">induction</div></div>
<div class="lb" style="left:37.5px;top:969.8px;line-height:9.55px"><div class="b">Equations and inequalities</div><div class="r">Solving quadratic</div><div class="r">inequalities</div></div>
<div class="lb" style="left:233.2px;top:968.5px;line-height:9.55px"><div class="b">Roots of polynomials</div><div class="r">Finding solutions of cubic</div><div class="r">and quartic equations</div></div>
<div class="lb" style="left:332.4px;top:969.9px;line-height:9.55px"><div class="b">Complex numbers</div><div class="r">Introducing <i>i</i>, the square</div><div class="r">root of -1 and its role in</div><div class="r">solving equations.</div></div>
<div class="lb" style="left:319.6px;top:845.7px;line-height:9.55px"><div class="b">Matrices</div><div class="r">Understanding how</div><div class="r">matrices can represent</div><div class="r">transformations of shapes</div><div class="r">and lines.</div></div>
<div class="lb" style="left:523.0px;top:530.3px;line-height:9.47px"><div class="b">Core</div><div class="r">Work on</div><div class="r">matrices and</div><div class="r">complex</div><div class="r">numbers, and</div><div class="r">extending</div><div class="r">work on</div><div class="r">functions and</div><div class="r">calculus.</div></div>
<div class="lb" style="left:523.0px;top:630.2px;line-height:9.5px"><div class="b">Statistics</div><div class="r">Introducing</div><div class="r">different</div><div class="r">types of</div><div class="r">distributions</div><div class="r">and using</div><div class="r">them to test</div><div class="r">hypotheses</div><div class="r">about real</div><div class="r">life</div><div class="r">situations.</div><div class="r">The statistics</div><div class="r">work is</div><div class="r">across both</div><div class="r">years.</div></div>
<div class="lb" style="left:523.0px;top:788.2px;line-height:9.5px"><div class="b">Mechanics</div><div class="r">Harder work</div><div class="r">on motion</div><div class="r">and friction.</div><div class="r">Also work on</div><div class="r">centres of</div><div class="r">mass.  The</div><div class="r">mechanics is</div><div class="r">only in Year</div><div class="r">12.</div></div>
<div class="bg" style="left:169.0px;top:179.6px;font-size:11.5px;line-height:13.80px;">EXAM</div>
<div class="bg" style="left:168.5px;top:194.8px;font-size:11.5px;line-height:13.80px;">PREPARATION</div>
<div class="bg" style="left:333.5px;top:179.6px;font-size:11.5px;line-height:13.80px;">EXAM</div>
<div class="bg" style="left:333.5px;top:195.0px;font-size:11.5px;line-height:13.80px;">PREPARATION</div>
<div class="bg" style="left:323.5px;top:560.6px;font-size:11.5px;line-height:13.80px;">EXAM</div>
<div class="bg" style="left:323.5px;top:576.1px;font-size:11.5px;line-height:13.80px;">PREPARATION</div>
<div class="bg" style="left:454.4px;top:680.1px;font-size:11.5px;line-height:13.80px;">EXAM</div>
<div class="bg" style="left:454.4px;top:695.7px;font-size:11.5px;line-height:13.80px;">PREPARATION</div>
<div class="bg" style="left:510.1px;top:168.6px;font-size:11.5px;line-height:13.80px;">REVISION</div>
<div class="bg" style="left:510.1px;top:183.8px;font-size:11.5px;line-height:13.80px;">Past</div>
<div class="bg" style="left:510.4px;top:198.7px;font-size:11.5px;line-height:13.80px;">Papers</div>
<div class="bg" style="left:465.0px;top:306.3px;font-size:12px;line-height:14.40px;">Mock</div>
<div class="bg" style="left:466.0px;top:321.8px;font-size:12px;line-height:14.40px;">Exams</div>
<div class="bg" style="left:1.4px;top:434.0px;font-size:12px;line-height:14.40px;">Mock</div>
<div class="bg" style="left:2.0px;top:449.8px;font-size:12px;line-height:14.40px;">Exams</div>
<div class="bg" style="left:404.0px;top:563.1px;font-size:12px;line-height:14.40px;">Mock</div>
<div class="bg" style="left:404.0px;top:578.9px;font-size:12px;line-height:14.40px;">Exams</div>
<div class="bg" style="left:375.0px;top:689.3px;font-size:9.5px;line-height:11.40px;">Assessment</div>
<div class="bg" style="left:247.0px;top:907.7px;font-size:9.5px;line-height:11.40px;">Transition</div>
<div class="bg" style="left:247.0px;top:920.6px;font-size:9.5px;line-height:11.40px;">Assessment</div>
<div class="bg" style="left:471.0px;top:482.8px;font-size:9.5px;line-height:11.40px;">Statistics</div>
<div class="bg" style="left:471.0px;top:495.8px;font-size:9.5px;line-height:11.40px;">side</div>
<div class="bg" style="left:535.0px;top:484.3px;font-size:9.5px;line-height:11.40px;">Mechanics</div>
<div class="bg" style="left:536.5px;top:496.8px;font-size:9.5px;line-height:11.40px;">side</div>
<div class="bg" style="left:116.0px;top:546.8px;font-size:9.5px;line-height:11.40px;">Year 2</div>
<div class="bg" style="left:116.0px;top:559.3px;font-size:9.5px;line-height:11.40px;">work starts</div>
<div class="bg" style="left:466.9px;top:858.5px;font-size:9.5px;line-height:11.40px;">Mechanics</div>
<div class="bg" style="left:468.4px;top:871.2px;font-size:9.5px;line-height:11.40px;">side</div>
<div class="bg" style="left:464.1px;top:953.1px;font-size:9.5px;line-height:11.40px;">Statistics</div>
<div class="bg" style="left:463.5px;top:966.0px;font-size:9.5px;line-height:11.40px;">side</div>
<div class="bg" style="left:495.6px;top:536.5px;font-size:11.4px;line-height:13.68px;">YEAR</div>
<div class="bg" style="left:496.4px;top:545.7px;font-size:40.5px;line-height:48.60px;-webkit-text-stroke:0.9px #000;color:#000;">13</div>
<div class="bg" style="left:506.5px;top:889.8px;font-size:11.4px;line-height:13.68px;">YEAR</div>
<div class="bg" style="left:508.1px;top:903.8px;font-size:40.5px;line-height:48.60px;-webkit-text-stroke:0.9px #000;color:#000;">12</div>
<div class="t ti" style="left:162px;top:12.950px;">A</div>
<div class="t ti" style="left:194.500px;top:12.950px;">-</div>
<div class="t ti" style="left:217px;top:12.950px;transform:scaleX(0.925);">LEVEL</div>
<div class="t ti" style="left:220.500px;top:52.800px;font-size:30px;transform:scaleX(1.090);">Further</div>
<div class="t ti" style="left:348.500px;top:52.800px;font-size:30px;transform:scaleX(1.020);">Maths</div>
<div class="t" id="uni" style="left:-40.500px;top:23.600px;width:200px;text-align:center;font-size:11px;line-height:12.800px;transform:scaleX(0.880);-webkit-text-stroke:0.450px #000;">UNIVERSITY ,<br>FURTHER<br>EDUCATION,<br>&#8201;APPRENTICESHIP</div>
<div class="t" id="fin" style="left:44.800px;top:164.400px;width:100px;text-align:center;font-size:20.400px;line-height:21.200px;transform:scaleX(0.650);-webkit-text-stroke:1.100px #000;">FINAL<br>EXAMS</div>
<svg style="position:absolute;left:478px;top:3px" width="228" height="64" viewBox="0 0 228 64">
  <rect x="1.200" y="1.500" width="222.500" height="60" fill="#fff" stroke="#e9e9e9" stroke-width="2.400"/>
  <!-- maroon bottom -->
  <path d="M22.400 42.700 H46.100 L53.700 54.800 L14.800 55.400 Z" fill="#7d0f33"/>
  <path d="M22.400 42.700 L14.800 55.400 L18.500 55.300 L26 42.700 Z" fill="#4a0c1e"/>
  <!-- gold left -->
  <path d="M25.800 8.500 L33.400 19.900 L22.400 42.700 L14.800 55.400 L6.300 42.700 Z" fill="#fdb913"/>
  <!-- blue right + swoosh -->
  <path d="M25.800 8.500 H41.900 L59.600 39.300 C66 35.500 78 32.300 91.800 31.700 C104 31.200 116 33.800 135 35 C160 36.400 182 35.400 196 29.500 C205 25.600 210 21 212.800 17.200 C211.500 24 206 31 196 35 C182 40.600 160 41 135 39 C116 37.400 104 36.400 91.800 38 C82 39.600 76 44.500 72.500 50 L69.800 54.800 H53.700 L46.100 42.700 L33.400 19.900 Z" fill="#27348b"/>
  <path d="M53.700 54.800 L59.600 39.300 L69.800 54.800 Z" fill="#1f2a70" opacity="0.550"/>
  <g font-family="Liberation Sans, sans-serif" fill="#2e3a8c">
    <text x="65.300" y="27.200" font-size="25.400" textLength="100.500" lengthAdjust="spacing" stroke="#fff" stroke-width="0.800">DELTA</text>
  </g>
  <text x="91" y="55.400" font-family="Liberation Sans, sans-serif" font-size="16.500" fill="#5273b8" stroke="#fff" stroke-width="0.300" textLength="116" lengthAdjust="spacingAndGlyphs">Academies Trust</text>
</svg>

</body></html>
